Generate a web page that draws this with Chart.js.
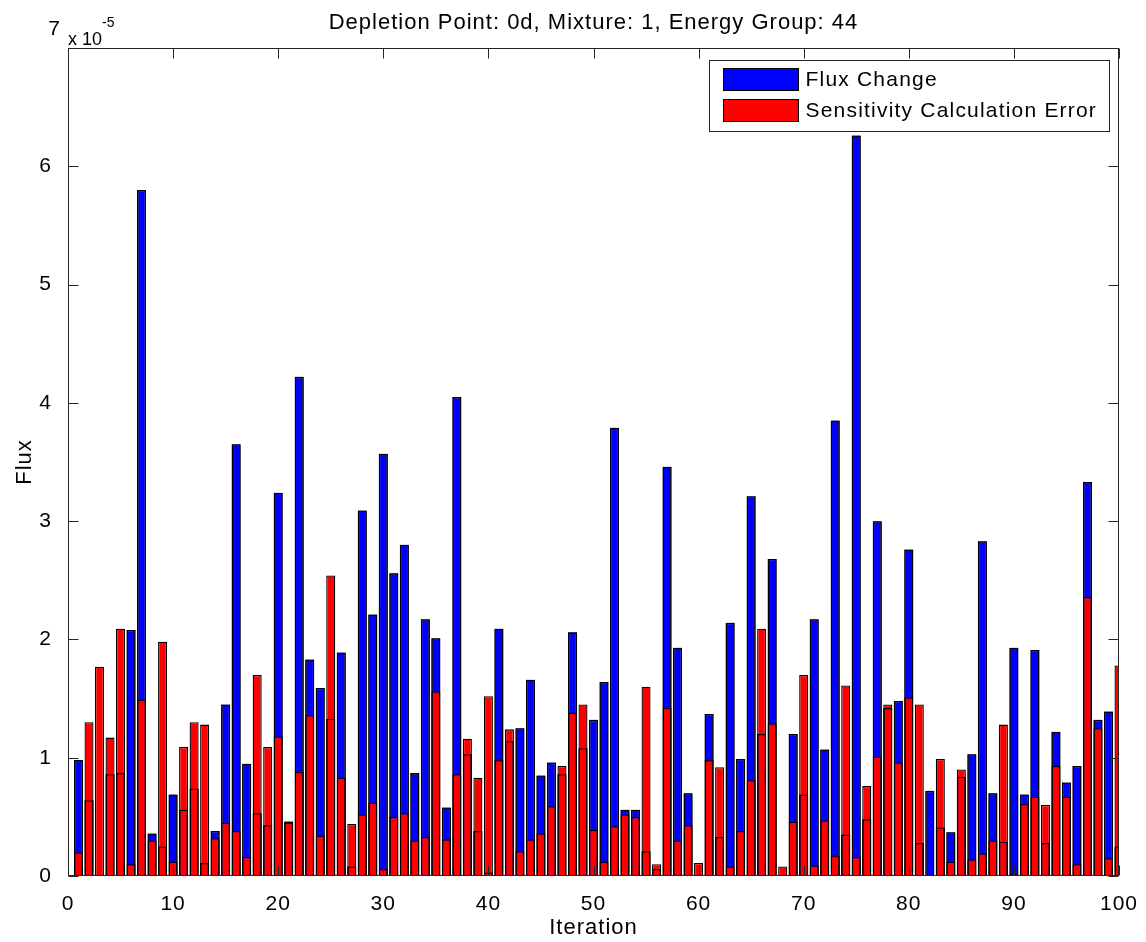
<!DOCTYPE html>
<html>
<head>
<meta charset="utf-8">
<title>Depletion Point: 0d, Mixture: 1, Energy Group: 44</title>
<script src="https://cdn.jsdelivr.net/npm/chart.js@4.4.1/dist/chart.umd.min.js"></script>
<style>
  html, body { margin: 0; padding: 0; background: #fff; }
  #wrap { width: 1146px; height: 942px; }
</style>
</head>
<body>
<div id="wrap"><canvas id="fluxChart" width="1146" height="942"></canvas></div>
<script>
// all flux values are in units of 1e-5 (see the "x 10^-5" label on the y axis)

const iterations = [
  1, 2, 3, 4, 5, 6, 7, 8, 9, 10,
  11, 12, 13, 14, 15, 16, 17, 18, 19, 20,
  21, 22, 23, 24, 25, 26, 27, 28, 29, 30,
  31, 32, 33, 34, 35, 36, 37, 38, 39, 40,
  41, 42, 43, 44, 45, 46, 47, 48, 49, 50,
  51, 52, 53, 54, 55, 56, 57, 58, 59, 60,
  61, 62, 63, 64, 65, 66, 67, 68, 69, 70,
  71, 72, 73, 74, 75, 76, 77, 78, 79, 80,
  81, 82, 83, 84, 85, 86, 87, 88, 89, 90,
  91, 92, 93, 94, 95, 96, 97, 98, 99, 100
];

// blue bars
const fluxChange = [
  0.98, 0.64, 0.01, 0.86, 0.87, 2.08, 5.80, 0.36, 0.25, 0.69,
  0.56, 0.74, 0.11, 0.38, 1.45, 3.65, 0.95, 0.53, 0.43, 3.24,
  0.46, 4.22, 1.83, 1.59, 1.33, 1.89, 0.08, 3.09, 2.21, 3.57,
  2.56, 2.80, 0.87, 2.17, 2.01, 0.58, 4.05, 1.03, 0.38, 0.03,
  2.09, 1.14, 1.25, 1.66, 0.85, 0.96, 0.86, 2.06, 1.08, 1.32,
  1.64, 3.79, 0.56, 0.56, 0.21, 0.06, 3.46, 1.93, 0.70, 0.01,
  1.37, 0.33, 2.14, 0.99, 3.21, 1.20, 2.68, 0.01, 1.20, 0.69,
  2.17, 1.07, 3.85, 0.35, 6.26, 0.48, 3.00, 1.42, 1.48, 2.76,
  0.28, 0.72, 0.41, 0.37, 0.84, 1.03, 2.83, 0.70, 0.29, 1.93,
  0.69, 1.91, 0.28, 1.22, 0.79, 0.93, 3.33, 1.32, 1.39, 0.25
];

// red bars
const sensError = [
  0.20, 1.30, 1.77, 1.17, 2.09, 0.10, 1.49, 0.30, 1.98, 0.12,
  1.09, 1.30, 1.28, 0.32, 0.45, 0.38, 0.16, 1.70, 1.09, 1.18,
  0.45, 0.88, 1.36, 0.34, 2.54, 0.83, 0.44, 0.52, 0.62, 0.06,
  0.50, 0.53, 0.30, 0.33, 1.56, 0.31, 0.86, 1.16, 0.83, 1.52,
  0.98, 1.24, 0.21, 0.31, 0.36, 0.59, 0.93, 1.38, 1.45, 0.39,
  0.12, 0.42, 0.52, 0.50, 1.60, 0.10, 1.42, 0.30, 0.43, 0.11,
  0.98, 0.92, 0.08, 0.38, 0.81, 2.09, 1.29, 0.08, 0.46, 1.70,
  0.09, 0.47, 0.17, 1.61, 0.16, 0.76, 1.01, 1.45, 0.96, 1.51,
  1.45, 0.01, 0.99, 0.12, 0.90, 0.14, 0.19, 0.30, 1.28, 0.02,
  0.61, 0.67, 0.60, 0.93, 0.67, 0.10, 2.36, 1.25, 0.15, 1.78
];

const xTicks = [0, 10, 20, 30, 40, 50, 60, 70, 80, 90, 100];
const yTicks = [0, 1, 2, 3, 4, 5, 6, 7];

const seriesNames = ["Flux Change", "Sensitivity Calculation Error"];
const seriesColors = ["#0000ff", "#ff0000"];

const FONT = "'Liberation Sans', Arial, Helvetica, sans-serif";
Chart.defaults.font.family = FONT;
Chart.defaults.color = "#000";

function toPoints(values) {
  return values.map((v, i) => ({ x: iterations[i], y: v }));
}

// matlab style box, inward ticks, legend and the exponent label
const matlabFrame = {
  id: "matlabFrame",
  beforeDraw(chart) {
    // matlab's text runs a bit wider than liberation sans
    chart.ctx.letterSpacing = "1px";
  },
  beforeDatasetsDraw(chart) {
    chart.ctx.letterSpacing = "0px";
  },
  afterDraw(chart) {
    const ctx = chart.ctx;
    const a = chart.chartArea;
    const xs = chart.scales.x;
    const ys = chart.scales.y;
    const L = Math.round(a.left) + 0.5;
    const R = Math.round(a.right) - 0.5;
    const T = Math.round(a.top) + 0.5;
    const B = Math.round(a.bottom) - 0.5;
    const tick = 10;

    ctx.save();
    ctx.strokeStyle = "#262626";
    ctx.lineWidth = 1;
    ctx.strokeRect(L, T, R - L, B - T);

    ctx.beginPath();
    xTicks.forEach(v => {
      const px = Math.round(xs.getPixelForValue(v)) + 0.5;
      ctx.moveTo(px, B); ctx.lineTo(px, B - tick);
      ctx.moveTo(px, T); ctx.lineTo(px, T + tick);
    });
    yTicks.forEach(v => {
      const py = Math.round(ys.getPixelForValue(v)) + 0.5;
      ctx.moveTo(L, py); ctx.lineTo(L + tick, py);
      ctx.moveTo(R, py); ctx.lineTo(R - tick, py);
    });
    ctx.stroke();

    // top y label sits raised next to the exponent
    ctx.fillStyle = "#000";
    ctx.font = "21px " + FONT;
    ctx.textAlign = "right";
    ctx.textBaseline = "middle";
    ctx.fillText(String(yTicks[yTicks.length - 1]), a.left - 8, a.top - 19);

    ctx.textAlign = "left";
    ctx.textBaseline = "alphabetic";
    ctx.font = "18px " + FONT;
    ctx.fillText("x 10", a.left, a.top - 3);
    const w = ctx.measureText("x 10").width;
    ctx.font = "14px " + FONT;
    ctx.fillText("-5", a.left + w, a.top - 21);

    // legend
    const boxW = 400, boxH = 71;
    const bx = Math.round(a.right - 10 - boxW) + 0.5;
    const by = Math.round(a.top + 12) + 0.5;
    ctx.fillStyle = "#fff";
    ctx.fillRect(bx, by, boxW, boxH);
    ctx.strokeStyle = "#262626";
    ctx.strokeRect(bx, by, boxW, boxH);
    ctx.font = "21px " + FONT;
    ctx.letterSpacing = "1.2px";
    ctx.textBaseline = "middle";
    seriesNames.forEach((name, i) => {
      const sy = by + 8 + i * 31;
      ctx.fillStyle = seriesColors[i];
      ctx.fillRect(bx + 14, sy, 75, 22);
      ctx.strokeStyle = "#000";
      ctx.strokeRect(bx + 14, sy, 75, 22);
      ctx.fillStyle = "#000";
      ctx.fillText(name, bx + 96, sy + 12);
    });
    ctx.restore();
    ctx.letterSpacing = "0px";
  }
};

const barCommon = {
  grouped: false,
  categoryPercentage: 1,
  barPercentage: 0.86,
  borderColor: "#000",
  borderWidth: 1.3,
  borderSkipped: "start"
};

let canvas = document.getElementById("fluxChart").getContext("2d");

const fluxChart = new Chart(canvas, {
  type: "bar",
  data: {
    datasets: [
      // outline of the blue bars drawn over the red ones
      Object.assign({}, barCommon, {
        label: "outline",
        data: toPoints(fluxChange),
        backgroundColor: "rgba(0,0,0,0)",
        order: 1
      }),
      Object.assign({}, barCommon, {
        label: seriesNames[1],
        data: toPoints(sensError),
        backgroundColor: seriesColors[1],
        order: 2
      }),
      Object.assign({}, barCommon, {
        label: seriesNames[0],
        data: toPoints(fluxChange),
        backgroundColor: seriesColors[0],
        order: 3
      })
    ]
  },
  options: {
    responsive: false,
    animation: false,
    layout: { padding: { left: 0, right: 27, top: 0, bottom: 0 } },
    plugins: {
      legend: { display: false },
      tooltip: { enabled: false },
      title: {
        display: true,
        text: "Depletion Point: 0d, Mixture: 1, Energy Group: 44",
        fullSize: false,
        font: { size: 22, weight: "normal" },
        color: "#000",
        padding: { top: 10, bottom: 11.6 }
      }
    },
    scales: {
      x: {
        type: "linear",
        min: 0,
        max: 100,
        offset: false,
        grid: { display: false },
        border: { display: false },
        afterBuildTicks: s => { s.ticks = xTicks.map(v => ({ value: v })); },
        afterFit: s => { s.height = 66; },
        ticks: { autoSkip: false, maxRotation: 0, padding: 8, font: { size: 21 }, color: "#000" },
        title: { display: true, text: "Iteration", font: { size: 22 }, color: "#000", padding: { top: 0, bottom: 1 } }
      },
      y: {
        min: 0,
        max: 7,
        grid: { display: false },
        border: { display: false },
        afterBuildTicks: s => { s.ticks = yTicks.map(v => ({ value: v })); },
        afterFit: s => { s.width = 68; },
        ticks: {
          padding: 8,
          font: { size: 21 },
          color: "#000",
          callback: v => (v === yTicks[yTicks.length - 1] ? "" : String(v))
        },
        title: { display: true, text: "Flux", font: { size: 22 }, color: "#000", padding: { top: 12, bottom: 0 } }
      }
    }
  },
  plugins: [matlabFrame]
});
</script>
</body>
</html>
